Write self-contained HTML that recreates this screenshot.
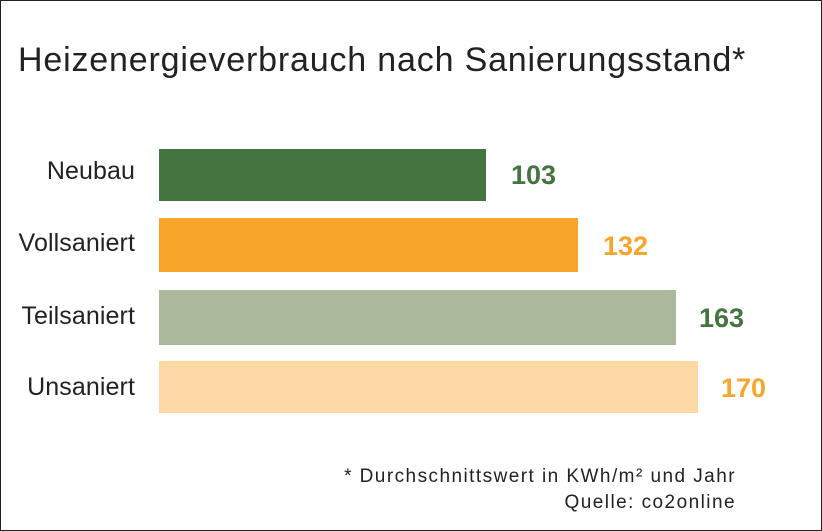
<!DOCTYPE html>
<html><head><meta charset="utf-8"><style>
html,body{margin:0;padding:0;background:#fff}
body{width:822px;height:531px;position:relative;overflow:hidden;font-family:"Liberation Sans",sans-serif}
.frame{position:absolute;left:0;top:0;width:820px;height:529px;border:1px solid #222}
.t{position:absolute;left:18px;top:41px;font-size:34px;color:#222;white-space:nowrap;letter-spacing:0.82px}
.lbl{position:absolute;right:687px;font-size:25px;color:#222;white-space:nowrap;letter-spacing:0.1px}
.bar{position:absolute;left:159px}
.v{position:absolute;font-size:27px;font-weight:bold}
.n{position:absolute;right:86px;font-size:19px;color:#222;text-align:right;line-height:26px;letter-spacing:1.45px;white-space:nowrap}
</style></head><body>
<div class="frame"></div>
<div class="t">Heizenergieverbrauch nach Sanierungsstand*</div>
<div class="lbl" style="top:157px">Neubau</div>
<div class="bar" style="top:149px;width:327px;height:52px;background:#44743f"></div>
<div class="v" style="left:511px;top:160px;color:#44743f">103</div>
<div class="lbl" style="top:229px">Vollsaniert</div>
<div class="bar" style="top:218px;width:419px;height:54px;background:#f7a52b"></div>
<div class="v" style="left:603px;top:231px;color:#f7a52b">132</div>
<div class="lbl" style="top:302px">Teilsaniert</div>
<div class="bar" style="top:290px;width:517px;height:55px;background:#aab99c"></div>
<div class="v" style="left:699px;top:303px;color:#44743f">163</div>
<div class="lbl" style="top:373px">Unsaniert</div>
<div class="bar" style="top:361px;width:539px;height:52px;background:#fcd9a4"></div>
<div class="v" style="left:721px;top:373px;color:#f7a52b">170</div>
<div class="n" style="top:464px">* Durchschnittswert in KWh/m² und Jahr<br>Quelle: co2online</div>
</body></html>
